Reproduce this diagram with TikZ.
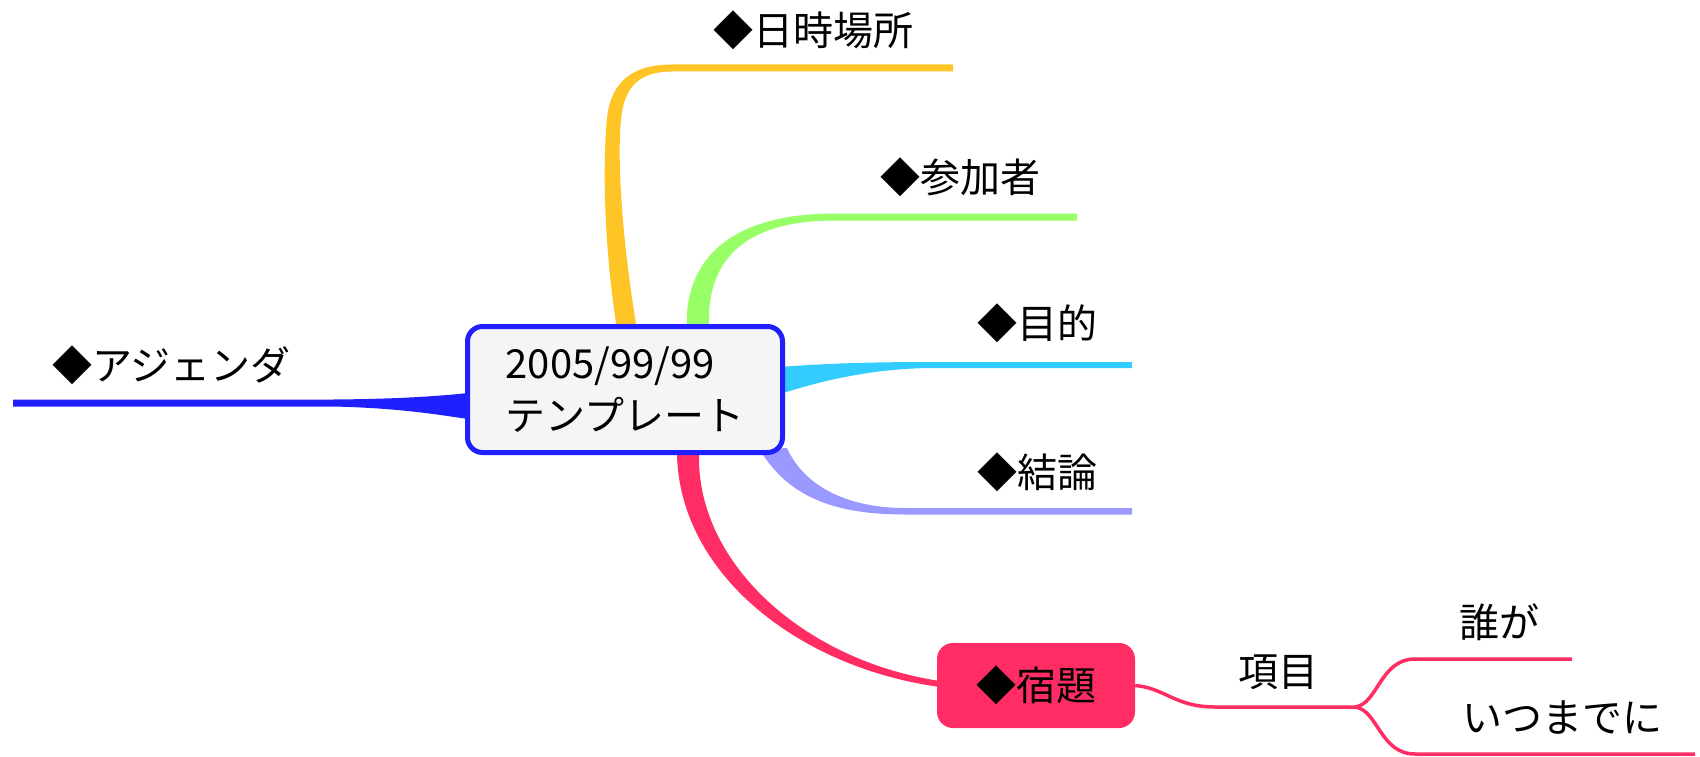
\documentclass[tikz,border=0pt]{standalone}
\usepackage{fontspec}
\setmainfont{Noto Sans CJK JP}
\usepackage{tikz}

\definecolor{rootblue}{HTML}{2020FF}
\definecolor{rootfill}{HTML}{F5F5F5}
\definecolor{dnyellow}{HTML}{FFC526}
\definecolor{skgreen}{HTML}{99FF66}
\definecolor{mtcyan}{HTML}{33CCFF}
\definecolor{klilac}{HTML}{9999FF}
\definecolor{shred}{HTML}{FF2D64}

\tikzset{
  every node/.style={font=\fontsize{40}{52}\selectfont},
  lbl/.style={inner sep=0pt, anchor=west},
  root/.style={draw=rootblue, line width=5pt, fill=rootfill, rounded corners=15pt,
    minimum width=315pt, minimum height=126pt, align=left, inner sep=0pt},
  taskbox/.style={fill=shred, rounded corners=16pt, minimum width=198pt, minimum height=85pt},
  twig/.style={draw=shred, line width=3.5pt},
}

\begin{document}
\begin{tikzpicture}[x=1pt,y=-1pt]
    \useasboundingbox (0,0) rectangle (1700,757);
    % branches
    \fill[dnyellow] (617,330) .. controls (603,240) and (603,160) .. (607,118) .. controls (611,82) and (632,64.5) .. (672,64.5) -- (953,64.5) -- (953,71.5) -- (672,71.5) .. controls (640,71.5) and (624,86) .. (621,120) .. controls (617,160) and (622,240) .. (637,330) -- cycle;
    \fill[skgreen] (687,330) .. controls (683,260) and (730,213.5) .. (835,213.5) -- (1077,213.5) -- (1077,220.5) -- (835,220.5) .. controls (750,220.5) and (705,255) .. (709,330) -- cycle;
    \fill[mtcyan] (780,367) .. controls (830,363) and (880,362) .. (935,362) -- (1132,362) -- (1132,368) -- (935,368) .. controls (880,368) and (830,378) .. (780,394) -- cycle;
    \fill[klilac] (760,450) .. controls (790,500) and (840,514.5) .. (905,514.5) -- (1132,514.5) -- (1132,508) -- (905,508) .. controls (850,508) and (805,488) .. (787,448) -- cycle;
    \fill[shred] (677,455) .. controls (680,575) and (800,668) .. (940,687) -- (940,681) .. controls (806,661) and (697,565) .. (699,455) -- cycle;
    \fill[rootblue] (13,399.5) -- (333,399.5) .. controls (400,399) and (440,396) .. (468,393) -- (468,419) .. controls (440,415) and (400,408) .. (333,406.5) -- (13,406.5) -- cycle;

    \node[root] (root) at (625,389.5) {2005/99/99\\テンプレート};
    \node[taskbox] (task) at (1036,685.5) {◆宿題};

    \node[lbl] (agenda) at (52,365) {◆アジェンダ};
    \node[lbl] (dn) at (713,30) {◆日時場所};
    \node[lbl] (sanka) at (880,177) {◆参加者};
    \node[lbl] (mokuteki) at (977,323) {◆目的};
    \node[lbl] (ketsuron) at (977,472) {◆結論};
    \node[lbl] (koumoku) at (1238,672) {項目};
    \node[lbl] (dare) at (1459,622) {誰が};
    \node[lbl] (itsu) at (1462,718) {いつまでに};

    \coordinate (fork) at (1355,707);
    \coordinate (dareend) at (1572,659);
    \coordinate (itsuend) at (1695,754);
    \draw[twig] (task.east) .. controls (1165,688) and (1175,707) .. (1215,707) -- (fork);
    \draw[twig] (fork) .. controls (1378,704) and (1380,659) .. (1415,659) -- (dareend);
    \draw[twig] (fork) .. controls (1378,710) and (1380,754) .. (1415,754) -- (itsuend);
\end{tikzpicture}
\end{document}
